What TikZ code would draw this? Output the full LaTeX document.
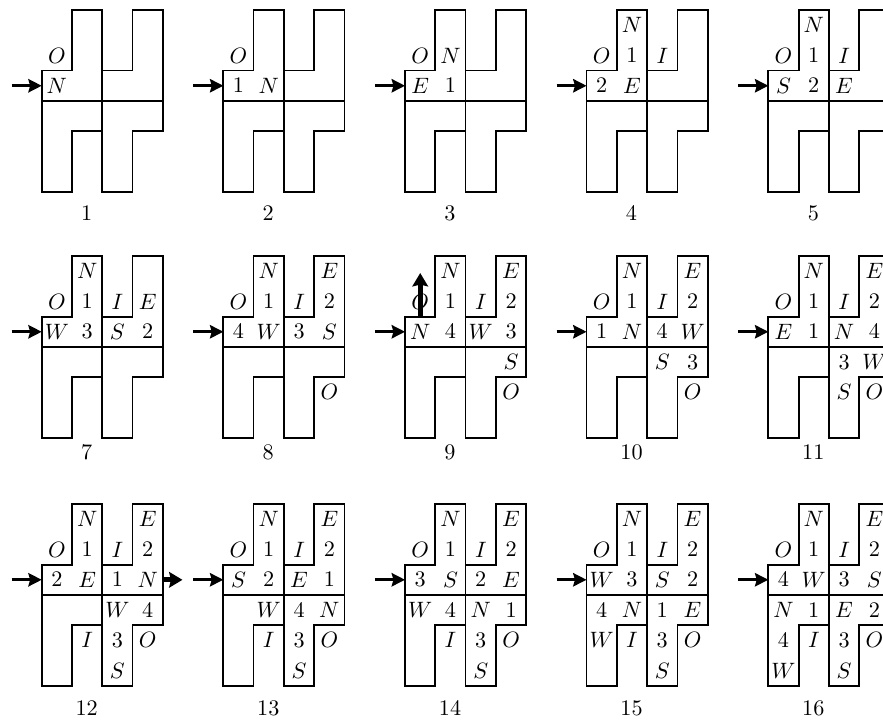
\documentclass[tikz,border=0pt]{standalone}
\usetikzlibrary{arrows.meta}
\begin{document}
\begin{tikzpicture}[x=0.45pt, y=-0.45pt, line width=0.8pt,
	cella/.style={inner sep=0pt},
	numero/.style={inner sep=0pt},
	ingr/.style={-{Stealth[length=6pt, width=6pt, inset=0.8pt]}, line width=1.2pt},
	usc/.style={-{Stealth[length=6pt, width=7pt, inset=0.8pt]}, line width=2.2pt},
	]
	
	\def\L{13.635pt}  % lato cella
	
	\useasboundingbox (0,0) rectangle (883,720);
	
	%% ── Pannelli ─────────────────────────────────────────────────────────────
	\foreach \n/\px/\py/\ly/\lista in {
		1/41.7/10/213/{0/1/O,0/2/N},
		2/223.3/10/213/{0/1/O,0/2/1,1/2/N},
		3/405/10/213/{0/1/O,1/1/N,0/2/E,1/2/1},
		4/586.5/10/213/{1/0/N,0/1/O,1/1/1,2/1/I,0/2/2,1/2/E},
		5/768.3/10/213/{1/0/N,0/1/O,1/1/1,2/1/I,0/2/S,1/2/2,2/2/E},
		7/41.7/256/452/{1/0/N,0/1/O,1/1/1,2/1/I,3/1/E,0/2/W,1/2/3,2/2/S,3/2/2},
		8/223.3/256/452/{1/0/N,3/0/E,0/1/O,1/1/1,2/1/I,3/1/2,0/2/4,1/2/W,2/2/3,3/2/S,3/4/O},
		9/405/256/452/{1/0/N,3/0/E,0/1/O,1/1/1,2/1/I,3/1/2,0/2/N,1/2/4,2/2/W,3/2/3,3/3/S,3/4/O},
		10/586.5/256/452/{1/0/N,3/0/E,0/1/O,1/1/1,2/1/I,3/1/2,0/2/1,1/2/N,2/2/4,3/2/W,2/3/S,3/3/3,3/4/O},
		11/768.3/256/452/{1/0/N,3/0/E,0/1/O,1/1/1,2/1/I,3/1/2,0/2/E,1/2/1,2/2/N,3/2/4,2/3/3,3/3/W,2/4/S,3/4/O},
		12/41.7/504/708/{1/0/N,3/0/E,0/1/O,1/1/1,2/1/I,3/1/2,0/2/2,1/2/E,2/2/1,3/2/N,2/3/W,3/3/4,1/4/I,2/4/3,3/4/O,2/5/S},
		13/223.3/504/708/{1/0/N,3/0/E,0/1/O,1/1/1,2/1/I,3/1/2,0/2/S,1/2/2,2/2/E,3/2/1,1/3/W,2/3/4,3/3/N,1/4/I,2/4/3,3/4/O,2/5/S},
		14/405/504/708/{1/0/N,3/0/E,0/1/O,1/1/1,2/1/I,3/1/2,0/2/3,1/2/S,2/2/2,3/2/E,0/3/W,1/3/4,2/3/N,3/3/1,1/4/I,2/4/3,3/4/O,2/5/S},
		15/586.5/504/708/{1/0/N,3/0/E,0/1/O,1/1/1,2/1/I,3/1/2,0/2/W,1/2/3,2/2/S,3/2/2,0/3/4,1/3/N,2/3/1,3/3/E,0/4/W,1/4/I,2/4/3,3/4/O,2/5/S},
		16/768.3/504/708/{1/0/N,3/0/E,0/1/O,1/1/1,2/1/I,3/1/2,0/2/4,1/2/W,2/2/3,3/2/S,0/3/N,1/3/1,2/3/E,3/3/2,0/4/4,1/4/I,2/4/3,3/4/O,0/5/W,2/5/S}%
	}{
		\begin{scope}[shift={(\px,\py)}, x=\L, y=-\L]
			% contorno delle due tessere
			\draw (0,2)--(1,2)--(1,0)--(2,0)--(2,2)--(3,2)--(3,0)--(4,0)--(4,4)
				--(3,4)--(3,6)--(2,6)--(2,4)--(1,4)--(1,6)--(0,6)--cycle;
			\draw (0,3)--(4,3) (2,2)--(2,4);
			% freccia d'ingresso
			\coordinate (a\n) at (-0.99,2.5);
			\coordinate (b\n) at (0,2.5);
			\draw[ingr] (a\n)--(b\n);
			% etichette delle celle
			\foreach \cc/\rr/\t in \lista
				\node[cella] (l\n-\cc-\rr) at (\cc+0.5,\rr+0.5) {$\t$};
		\end{scope}
		\node[numero] (p\n) at (\px+45,\ly) {\n};
	}
	
	%% ── Uscita verso l'alto (9) ──────────────────────────────────────────────
	\coordinate (su1) at (420.2,316.6);
	\coordinate (su2) at (420.2,273);
	\draw[usc] (su1)--(su2);
	
	%% ── Uscita a destra (12) ─────────────────────────────────────────────────
	\coordinate (de1) at (163.3,579.8);
	\coordinate (de2) at (182.5,579.8);
	\draw[usc] (de1)--(de2);
	
\end{tikzpicture}
\end{document}
